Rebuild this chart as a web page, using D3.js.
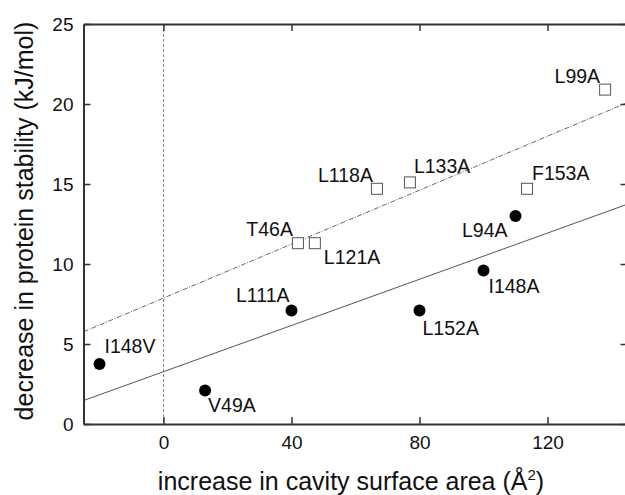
<!DOCTYPE html>
<html>
<head>
<meta charset="utf-8">
<script src="https://cdn.jsdelivr.net/npm/d3@7"></script>
<style>
  body { margin: 0; background: #fff; }
  svg { display: block; font-family: "Liberation Sans", Arial, sans-serif; }
</style>
</head>
<body>
<svg width="625" height="495"></svg>
<script>
// filled circles
var circleNames = ["I148V", "V49A", "L111A", "L152A", "I148A", "L94A"];
var circleX = [-20, 13, 40, 80, 100, 110];
var circleY = [3.75, 2.1, 7.1, 7.1, 9.6, 13.0];

// open squares
var squareNames = ["T46A", "L121A", "L118A", "L133A", "F153A", "L99A"];
var squareX = [42, 47.3, 66.7, 77, 113.6, 138];
var squareY = [11.3, 11.3, 14.7, 15.1, 14.7, 20.9];

// fitted lines [intercept, slope]
var circleFit = [3.27, 0.0722];
var squareFit = [7.87, 0.0843];

var xTicks = [0, 40, 80, 120];
var yTicks = [0, 5, 10, 15, 20, 25];

// label placement: [dx, dy, anchor]
var labelPos = {
  "I148V": [5, -11, "start"],
  "V49A": [3, 22, "start"],
  "L111A": [-2, -8, "end"],
  "L152A": [3, 25, "start"],
  "I148A": [5, 23, "start"],
  "L94A": [-8, 21, "end"],
  "T46A": [-5, -7, "end"],
  "L121A": [9, 21, "start"],
  "L118A": [-4, -7, "end"],
  "L133A": [4, -9, "start"],
  "F153A": [5, -9, "start"],
  "L99A": [-5, -7, "end"]
};

var svg = d3.select("svg");
var margin = {left: 83.5, top: 24, right: 627.5, bottom: 424};

var x = d3.scaleLinear().domain([-25, 145]).range([margin.left, margin.right]);
var y = d3.scaleLinear().domain([0, 25]).range([margin.bottom, margin.top]);

svg.append("clipPath").attr("id", "plot")
  .append("rect")
  .attr("x", margin.left).attr("y", margin.top)
  .attr("width", margin.right - margin.left)
  .attr("height", margin.bottom - margin.top);

// zero line
svg.append("line")
  .attr("x1", x(0)).attr("x2", x(0))
  .attr("y1", margin.top).attr("y2", margin.bottom)
  .attr("stroke", "#888")
  .attr("stroke-width", 1)
  .attr("stroke-dasharray", "3,2");

// fit lines
var xs = x.domain();
function fitLine(fit, dash, color) {
  svg.append("line")
    .attr("clip-path", "url(#plot)")
    .attr("x1", x(xs[0])).attr("y1", y(fit[0] + fit[1] * xs[0]))
    .attr("x2", x(xs[1])).attr("y2", y(fit[0] + fit[1] * xs[1]))
    .attr("stroke", color)
    .attr("stroke-width", 1)
    .attr("stroke-dasharray", dash);
}
fitLine(circleFit, null, "#555");
fitLine(squareFit, "5,1.5,1,1.5", "#666");

// axes
var axisColor = "#333";
function styleAxis(g) {
  g.select(".domain").attr("stroke", axisColor).attr("stroke-width", 2);
  g.selectAll(".tick line").attr("stroke", axisColor).attr("stroke-width", 1.5);
  g.selectAll(".tick text").attr("fill", "#111").style("font-size", "19px")
    .style("font-family", "Liberation Sans, Arial, sans-serif");
}

svg.append("g")
  .attr("transform", "translate(0," + margin.bottom + ")")
  .call(d3.axisBottom(x).tickValues(xTicks).tickSizeInner(-7).tickSizeOuter(0).tickPadding(12))
  .call(styleAxis);

svg.append("g")
  .attr("transform", "translate(0," + margin.top + ")")
  .call(d3.axisTop(x).tickValues(xTicks).tickSizeInner(-7).tickSizeOuter(0).tickFormat(""))
  .call(styleAxis);

svg.append("g")
  .attr("transform", "translate(" + margin.left + ",0)")
  .call(d3.axisLeft(y).tickValues(yTicks).tickSizeInner(-7).tickSizeOuter(0).tickPadding(10))
  .call(styleAxis);

svg.append("g")
  .attr("transform", "translate(" + margin.right + ",0)")
  .call(d3.axisRight(y).tickValues(yTicks).tickSizeInner(-7).tickSizeOuter(0).tickFormat(""))
  .call(styleAxis);

// squares
var sq = 11;
var squares = squareNames.map(function(n, i) { return {name: n, x: squareX[i], y: squareY[i]}; });
svg.selectAll(".sq")
  .data(squares)
  .enter()
  .append("rect")
  .attr("class", "sq")
  .attr("x", function(d) { return x(d.x) - sq / 2; })
  .attr("y", function(d) { return y(d.y) - sq / 2; })
  .attr("width", sq).attr("height", sq)
  .attr("fill", "#fff")
  .attr("stroke", "#555")
  .attr("stroke-width", 1);

// circles
var circles = circleNames.map(function(n, i) { return {name: n, x: circleX[i], y: circleY[i]}; });
svg.selectAll(".dot")
  .data(circles)
  .enter()
  .append("circle")
  .attr("class", "dot")
  .attr("cx", function(d) { return x(d.x); })
  .attr("cy", function(d) { return y(d.y); })
  .attr("r", 6)
  .attr("fill", "#000");

// point labels
svg.selectAll(".lbl")
  .data(circles.concat(squares))
  .enter()
  .append("text")
  .attr("class", "lbl")
  .attr("x", function(d) { return x(d.x) + labelPos[d.name][0]; })
  .attr("y", function(d) { return y(d.y) + labelPos[d.name][1]; })
  .attr("text-anchor", function(d) { return labelPos[d.name][2]; })
  .style("font-size", "19.5px")
  .attr("fill", "#111")
  .text(function(d) { return d.name; });

// axis titles
var xt = svg.append("text")
  .attr("x", 351).attr("y", 490)
  .attr("text-anchor", "middle")
  .style("font-size", "25px")
  .attr("fill", "#111");
xt.append("tspan").text("increase in cavity surface area (Å");
xt.append("tspan").attr("dy", -10).style("font-size", "15px").text("2");
xt.append("tspan").attr("dy", 10).text(")");

svg.append("text")
  .attr("transform", "translate(33," + 221 + ") rotate(-90)")
  .attr("text-anchor", "middle")
  .style("font-size", "25px")
  .attr("fill", "#111")
  .text("decrease in protein stability (kJ/mol)");
</script>
</body>
</html>
